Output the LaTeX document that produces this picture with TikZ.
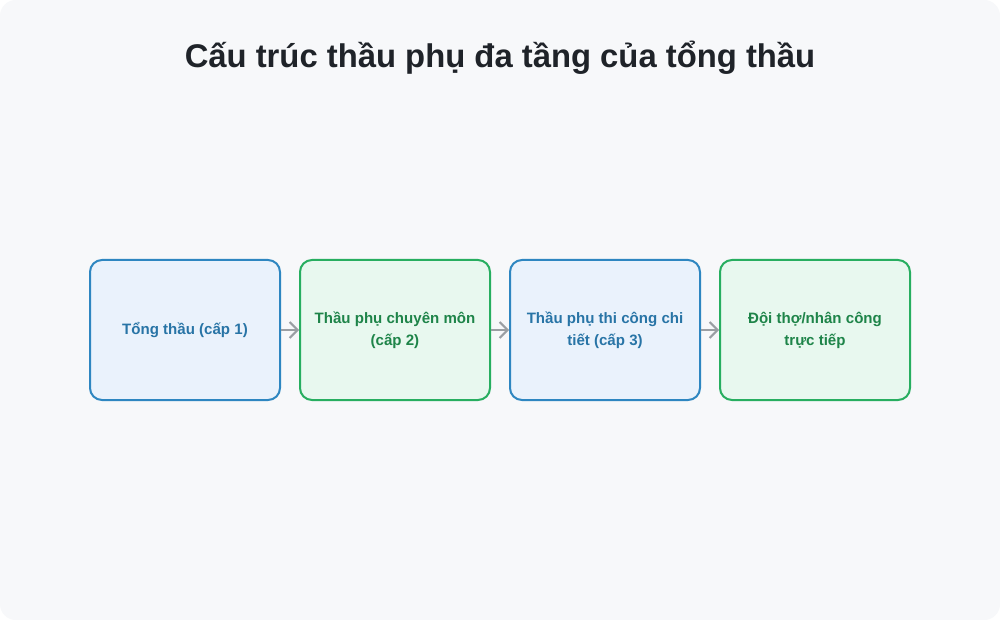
\documentclass[tikz,border=0pt]{standalone}
\usepackage{fontspec}
\setmainfont{Liberation Sans}
\usetikzlibrary{arrows.meta}
\definecolor{bgcol}{HTML}{F7F8FA}
\definecolor{bluedraw}{HTML}{2E86C1}
\definecolor{bluefill}{HTML}{EAF2FC}
\definecolor{bluetext}{HTML}{2874A6}
\definecolor{greendraw}{HTML}{27AE60}
\definecolor{greenfill}{HTML}{E8F8EF}
\definecolor{greentext}{HTML}{1E8449}
\definecolor{titletext}{HTML}{1F2329}
\definecolor{arrowgray}{HTML}{9A9EA3}

\begin{document}
\begin{tikzpicture}[x=0.75pt,y=-0.75pt,
  tier/.style={rectangle, rounded corners=9pt, line width=1.5pt, minimum width=142.5pt, minimum height=105pt, text width=121.5pt, align=flush center, font=\fontsize{11.3}{16.5}\selectfont\bfseries},
  bluetier/.style={tier, draw=bluedraw, fill=bluefill, text=bluetext},
  greentier/.style={tier, draw=greendraw, fill=greenfill, text=greentext},
  link/.style={-{Straight Barb[length=6pt,width=12pt]}, line width=1.5pt, draw=arrowgray}]
% background card
\fill[white] (0,0) rectangle (1000,620);
\fill[bgcol,rounded corners=12pt] (0,0) rectangle (1000,620);
\node[text=titletext, font=\fontsize{24.6}{28}\selectfont\bfseries] (title) at (500,58) {Cấu trúc thầu phụ đa tầng của tổng thầu};

\node[bluetier] (tongthau) at (185,330) {Tổng thầu (cấp 1)};
\node[greentier] (chuyenmon) at (395,330) {Thầu phụ chuyên môn (cấp 2)};
\node[bluetier] (thicong) at (605,330) {Thầu phụ thi công chi tiết (cấp 3)};
\node[greentier] (doitho) at (815,330) {Đội thợ/nhân công trực tiếp};

\draw[link] (tongthau) to (chuyenmon);
\draw[link] (chuyenmon) to (thicong);
\draw[link] (thicong) to (doitho);

\end{tikzpicture}
\end{document}
